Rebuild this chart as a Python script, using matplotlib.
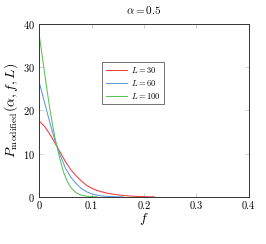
import matplotlib
matplotlib.use("Agg")
import matplotlib.pyplot as plt

plt.rcParams['font.family'] = 'serif'
plt.rcParams['font.serif'] = ['cmr10']
plt.rcParams['mathtext.fontset'] = 'cm'
plt.rcParams['axes.formatter.use_mathtext'] = True

# values
f_30 = [0, 0.01, 0.02, 0.03, 0.04, 0.05, 0.06, 0.07, 0.08, 0.09, 0.10, 0.11,
        0.12, 0.13, 0.14, 0.15, 0.16, 0.17, 0.18, 0.19, 0.20, 0.21, 0.22]
p_30 = [17.5, 16.3, 14.5, 12.4, 10.3, 8.1, 6.3, 4.9, 3.7, 2.7, 2.0, 1.5,
        1.15, 0.85, 0.65, 0.48, 0.34, 0.23, 0.15, 0.09, 0.05, 0.03, 0.01]

f_60 = [0, 0.01, 0.02, 0.03, 0.04, 0.05, 0.06, 0.07, 0.08, 0.09, 0.10, 0.11,
        0.12, 0.13, 0.14, 0.15, 0.16]
p_60 = [26.4, 21.8, 17.2, 12.9, 9.6, 6.6, 4.6, 3.1, 1.95, 1.2, 0.7, 0.4,
        0.22, 0.12, 0.06, 0.03, 0.01]

f_100 = [0, 0.005, 0.01, 0.015, 0.02, 0.025, 0.03, 0.035, 0.04, 0.045, 0.05,
         0.055, 0.06, 0.065, 0.07, 0.075, 0.08, 0.09, 0.10, 0.11]
p_100 = [37.2, 33.0, 28.6, 24.4, 20.4, 16.8, 13.6, 10.9, 8.4, 6.2, 4.5,
         3.2, 2.2, 1.5, 1.0, 0.65, 0.42, 0.17, 0.06, 0.02]

labels = [r'$L = 30$', r'$L = 60$', r'$L = 100$']
colors = ['#f03c3c', '#5a9ad8', '#5cc05c']

fig = plt.figure(figsize=(2.66, 2.44), dpi=100)
ax = fig.add_axes([0.148, 0.193, 0.787, 0.709])

ax.plot(f_30, p_30, color=colors[0], lw=0.75, label=labels[0])
ax.plot(f_60, p_60, color=colors[1], lw=0.75, label=labels[1])
ax.plot(f_100, p_100, color=colors[2], lw=0.75, label=labels[2])

ax.set_xlim(0, 0.4)
ax.set_ylim(0, 40)
ax.set_xticks([0, 0.1, 0.2, 0.3, 0.4])
ax.set_xticklabels(['0', '0.1', '0.2', '0.3', '0.4'])
ax.set_yticks([0, 10, 20, 30, 40])
ax.tick_params(direction='in', top=True, right=True, length=3, width=0.5,
               color='#bbbbbb', labelsize=7.5, pad=3)
for s in ax.spines.values():
    s.set_linewidth(0.7)
    s.set_color('#333333')

ax.set_title(r'$\alpha = 0.5$', fontsize=8, pad=7)
ax.set_xlabel(r'$f$', fontsize=10, labelpad=0)
ax.set_ylabel(r'$P_{\mathrm{modified}}(\alpha, f, L)$', fontsize=10, labelpad=2)

leg = ax.legend(loc='upper left', bbox_to_anchor=(0.30, 0.78), fontsize=6,
                frameon=True, fancybox=False, handlelength=2.6,
                borderpad=0.4, labelspacing=0.35, handletextpad=0.5,
                borderaxespad=0)
leg.get_frame().set_edgecolor('#333333')
leg.get_frame().set_linewidth(0.6)

fig.savefig('out.png', dpi=100)
